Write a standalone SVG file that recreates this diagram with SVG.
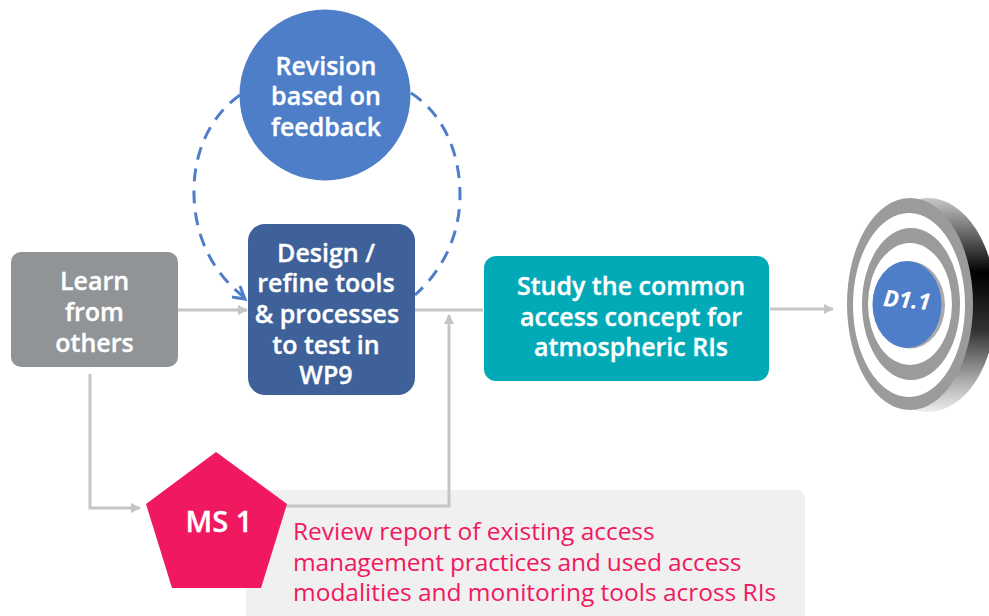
<svg xmlns="http://www.w3.org/2000/svg" width="989" height="616" viewBox="0 0 989 616">
<style>
text{font-family:"Open Sans","Noto Sans","Liberation Sans",sans-serif;text-anchor:middle}
.w{fill:#fff;stroke:#fff;stroke-width:.35px;font-weight:600;font-size:25px}
.r{fill:#f0185f;font-size:24.500px;text-anchor:start}
.c{fill:none;stroke:#c4c6c6;stroke-width:3}
.d{fill:none;stroke:#4f7ec9;stroke-width:3;stroke-dasharray:13 9}
</style>
<defs>
<marker id="a" markerWidth="11" markerHeight="12" refX="9" refY="6" orient="auto" markerUnits="userSpaceOnUse"><path d="M0 1L10 6L0 11Z" fill="#c4c6c6"/></marker>
<linearGradient id="b" x1="0" y1="0" x2="0" y2="1"><stop offset="0" stop-color="#c8c8c8"/><stop offset=".17" stop-color="#666"/><stop offset=".35" stop-color="#000"/><stop offset=".62" stop-color="#333"/><stop offset=".85" stop-color="#aaa"/><stop offset="1" stop-color="#eee"/></linearGradient>
</defs>
<g id="note"><rect x="246" y="490" width="559" height="140" rx="8" fill="#f0f0f0"/><text class="r" x="293"><tspan x="293" y="540" letter-spacing="-.03">Review report of existing access</tspan><tspan x="293" y="571" letter-spacing="-.14">management practices and used access</tspan><tspan x="293" y="601" letter-spacing="-.02">modalities and monitoring tools across RIs</tspan></text></g>
<g id="connectors">
<path class="c" d="M178 310H247" marker-end="url(#a)"/>
<path class="c" d="M415 310H483"/>
<path class="c" d="M770 309H833" marker-end="url(#a)"/>
<path class="c" d="M90 374V508H140" marker-end="url(#a)"/>
<path class="c" d="M285 506H449V315" marker-end="url(#a)"/>
<path class="d" d="M240 95C205 120 193 160 194 195C195 240 215 275 245 298"/>
<path d="M232 297L245 299L240 286" fill="none" stroke="#4f7ec9" stroke-width="3"/>
<path class="d" d="M411 93C445 115 460 155 460 195C460 235 443 270 415 295"/>
</g>
<g id="revision"><circle cx="325" cy="95" r="85.500" fill="#4f7ec9"/><text class="w"><tspan x="326" y="75">Revision</tspan><tspan x="326" y="105">based on</tspan><tspan x="326" y="136">feedback</tspan></text></g>
<g id="learn"><rect x="11" y="252" width="167" height="115" rx="10" fill="#909497"/><text class="w"><tspan x="94.500" y="290">Learn</tspan><tspan x="94.500" y="321">from</tspan><tspan x="94.500" y="352">others</tspan></text></g>
<g id="design"><rect x="248" y="224" width="167" height="171" rx="17" fill="#3e6199"/><text class="w"><tspan x="326" y="262">Design /</tspan><tspan x="326" y="292">refine tools</tspan><tspan x="327" y="323">&amp; processes</tspan><tspan x="326" y="354">to test in</tspan><tspan x="326" y="384">WP9</tspan></text></g>
<g id="study"><rect x="484" y="256" width="285" height="125" rx="12" fill="#02aab8"/><text class="w"><tspan x="631" y="295">Study the common</tspan><tspan x="631" y="326">access concept for</tspan><tspan x="631" y="356">atmospheric RIs</tspan></text></g>
<g id="ms1"><polygon points="216,452 287,504 261,588 172,588 146,504" fill="#f0185f"/><text class="w" x="219" y="532" style="font-size:29px">MS 1</text></g>
<g id="target">
<ellipse cx="928" cy="305" rx="68" ry="107" fill="url(#b)"/>
<ellipse cx="910" cy="304" rx="63" ry="106" fill="#9b9b9b"/>
<ellipse cx="909" cy="305" rx="56" ry="92" fill="#fff"/>
<ellipse cx="911" cy="304" rx="49" ry="76" fill="#9b9b9b"/>
<ellipse cx="910" cy="304" rx="42" ry="61" fill="#fff"/>
<ellipse cx="910" cy="305" rx="35" ry="43.500" fill="#aaa"/>
<ellipse cx="907" cy="304.500" rx="34.500" ry="43.500" fill="#4f7ec9"/>
<text x="907" y="308" transform="rotate(5 907 300)" fill="#fff" font-size="23" font-weight="700" font-style="italic">D1.1</text>
</g>
</svg>
